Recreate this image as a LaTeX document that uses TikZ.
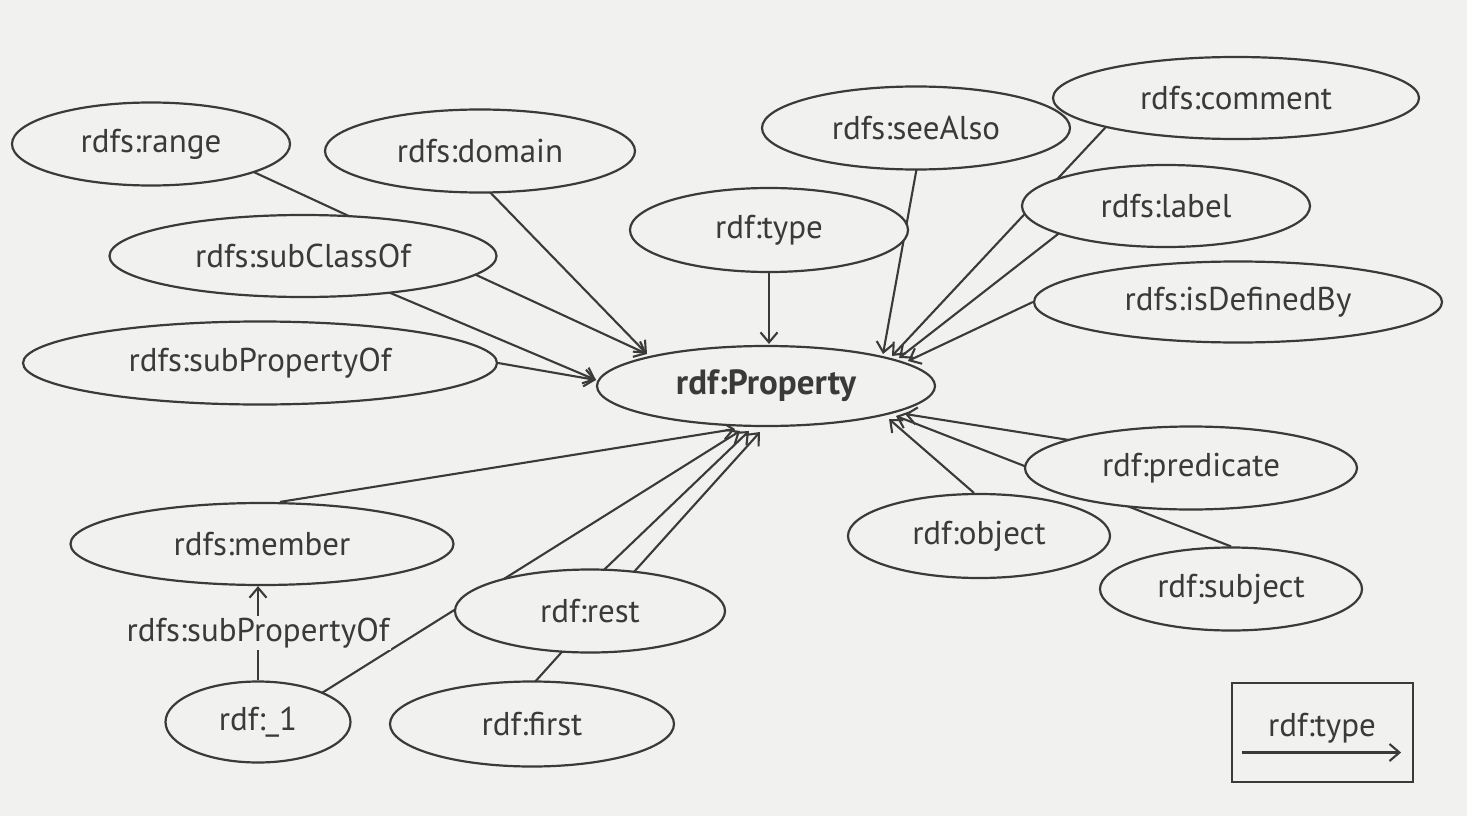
\documentclass[tikz,border=0pt]{standalone}
\usepackage{fontspec}
\setmainfont{PT Sans}
\usetikzlibrary{arrows.meta,shapes.geometric,calc,backgrounds}
\definecolor{bg}{RGB}{241,241,239}
\definecolor{ink}{RGB}{58,58,58}
\begin{document}
\begin{tikzpicture}[x=1pt,y=-1pt,
  ell/.style={ellipse, draw=ink, fill=bg, line width=2.2pt, inner sep=0pt, text=ink, font=\fontsize{33}{38}\selectfont},
  arr/.style={draw=ink, line width=2.1pt, -{Straight Barb[length=10pt,width=17pt,line width=2.1pt]}},
  lbl/.style={text=ink, fill=bg, inner sep=2pt, font=\fontsize{33}{38}\selectfont},
  legendbox/.style={draw=ink, line width=2.2pt, inner sep=0pt}]
\useasboundingbox (0,0) rectangle (1467,816);
% nodes
\node[ell,minimum width=278,minimum height=83] (range) at (151,144) {rdfs:range};
\node[ell,minimum width=310,minimum height=83] (domain) at (480,151) {rdfs:domain};
\node[ell,minimum width=387,minimum height=82] (subclass) at (303,256) {rdfs:subClassOf};
\node[ell,minimum width=474,minimum height=83] (subprop) at (260,363) {rdfs:subPropertyOf};
\node[ell,minimum width=308,minimum height=83] (seealso) at (916,128) {rdfs:seeAlso};
\node[ell,minimum width=278,minimum height=84] (type) at (769,230) {rdf:type};
\node[ell,minimum width=366,minimum height=82] (comment) at (1236,98) {rdfs:comment};
\node[ell,minimum width=288,minimum height=82] (label) at (1166,206) {rdfs:label};
\node[ell,minimum width=408,minimum height=81] (isdef) at (1238,302) {rdfs:isDefinedBy};
\node[ell,minimum width=338,minimum height=80,font=\fontsize{35}{40}\selectfont\bfseries] (prop) at (766,386) {rdf:Property};
\node[ell,minimum width=332,minimum height=83] (pred) at (1191,468) {rdf:predicate};
\node[ell,minimum width=262,minimum height=84] (object) at (979,536) {rdf:object};
\node[ell,minimum width=262,minimum height=83] (subject) at (1231,589) {rdf:subject};
\node[ell,minimum width=383,minimum height=82] (member) at (262,544) {rdfs:member};
\node[ell,minimum width=270,minimum height=83] (rest) at (590,611) {rdf:rest};
\node[ell,minimum width=284,minimum height=85] (first) at (532,724) {rdf:first};
\node[ell,minimum width=185,minimum height=81] (one) at (258,722) {rdf:\_1};
% legend
\node[legendbox,minimum width=181,minimum height=99] (legend) at (1322.5,732.5) {};
\node[text=ink,font=\fontsize{33}{38}\selectfont] (legendtext) at (1322,728) {rdf:type};
\coordinate (la) at ($(legend.west)+(11,20)$);
\coordinate (lb) at ($(legend.east)+(-13,20)$);
% arrow tips on rdf:Property
\coordinate (tTL) at ($(prop.center)+(-119,-32)$);
\coordinate (tL) at ($(prop.center)+(-170,-6)$);
\coordinate (tT) at ($(prop.center)+(3,-42)$);
\coordinate (tR1) at ($(prop.center)+(117,-32)$);
\coordinate (tR2) at ($(prop.center)+(126,-30)$);
\coordinate (tR3) at ($(prop.center)+(133,-28)$);
\coordinate (tR4) at ($(prop.center)+(142,-25)$);
\coordinate (tB1) at ($(prop.center)+(-31,43)$);
\coordinate (tB2) at ($(prop.center)+(-26,45)$);
\coordinate (tB3) at ($(prop.center)+(-17,45)$);
\coordinate (tB4) at ($(prop.center)+(-6,46)$);
\coordinate (tBR1) at ($(prop.center)+(123,33)$);
\coordinate (tBR2) at ($(prop.center)+(130,30)$);
\coordinate (tBR3) at ($(prop.center)+(139,28)$);
\begin{pgfonlayer}{background}
\fill[bg] (0,0) rectangle (1467,816);
\draw[arr] ($(range.center)+(40,-1)$) -- (tTL);
\draw[arr] ($(domain.center)+(-30,0)$) -- (tTL);
\draw[arr] (subclass.center) -- (tL);
\draw[arr] (subprop.east) -- (tL);
\draw[arr] (type.south) -- (tT);
\draw[arr] ($(seealso.center)+(8,0)$) -- (tR1);
\draw[arr] ($(comment.center)+(-103,0)$) -- (tR2);
\draw[arr] ($(label.center)+(-72,0)$) -- (tR3);
\draw[arr] (isdef.west) -- (tR4);
\draw[arr] ($(member.north)+(18,0)$) -- (tB1);
\draw[arr] ($(one.center)+(0,11)$) -- (tB2);
\draw[arr] ($(rest.center)+(-29,0)$) -- (tB3);
\draw[arr] ($(first.center)+(-35,0)$) -- (tB4);
\draw[arr] ($(object.north)+(-5,0)$) -- (tBR1);
\draw[arr] (subject.north) -- (tBR2);
\draw[arr] ($(pred.center)+(-40,-15)$) -- (tBR3);
\end{pgfonlayer}
\draw[arr] (one.north) -- node[lbl] (spo) {rdfs:subPropertyOf} (one.north |- member.south);
\draw[arr] (la) -- (lb);
\end{tikzpicture}
\end{document}
